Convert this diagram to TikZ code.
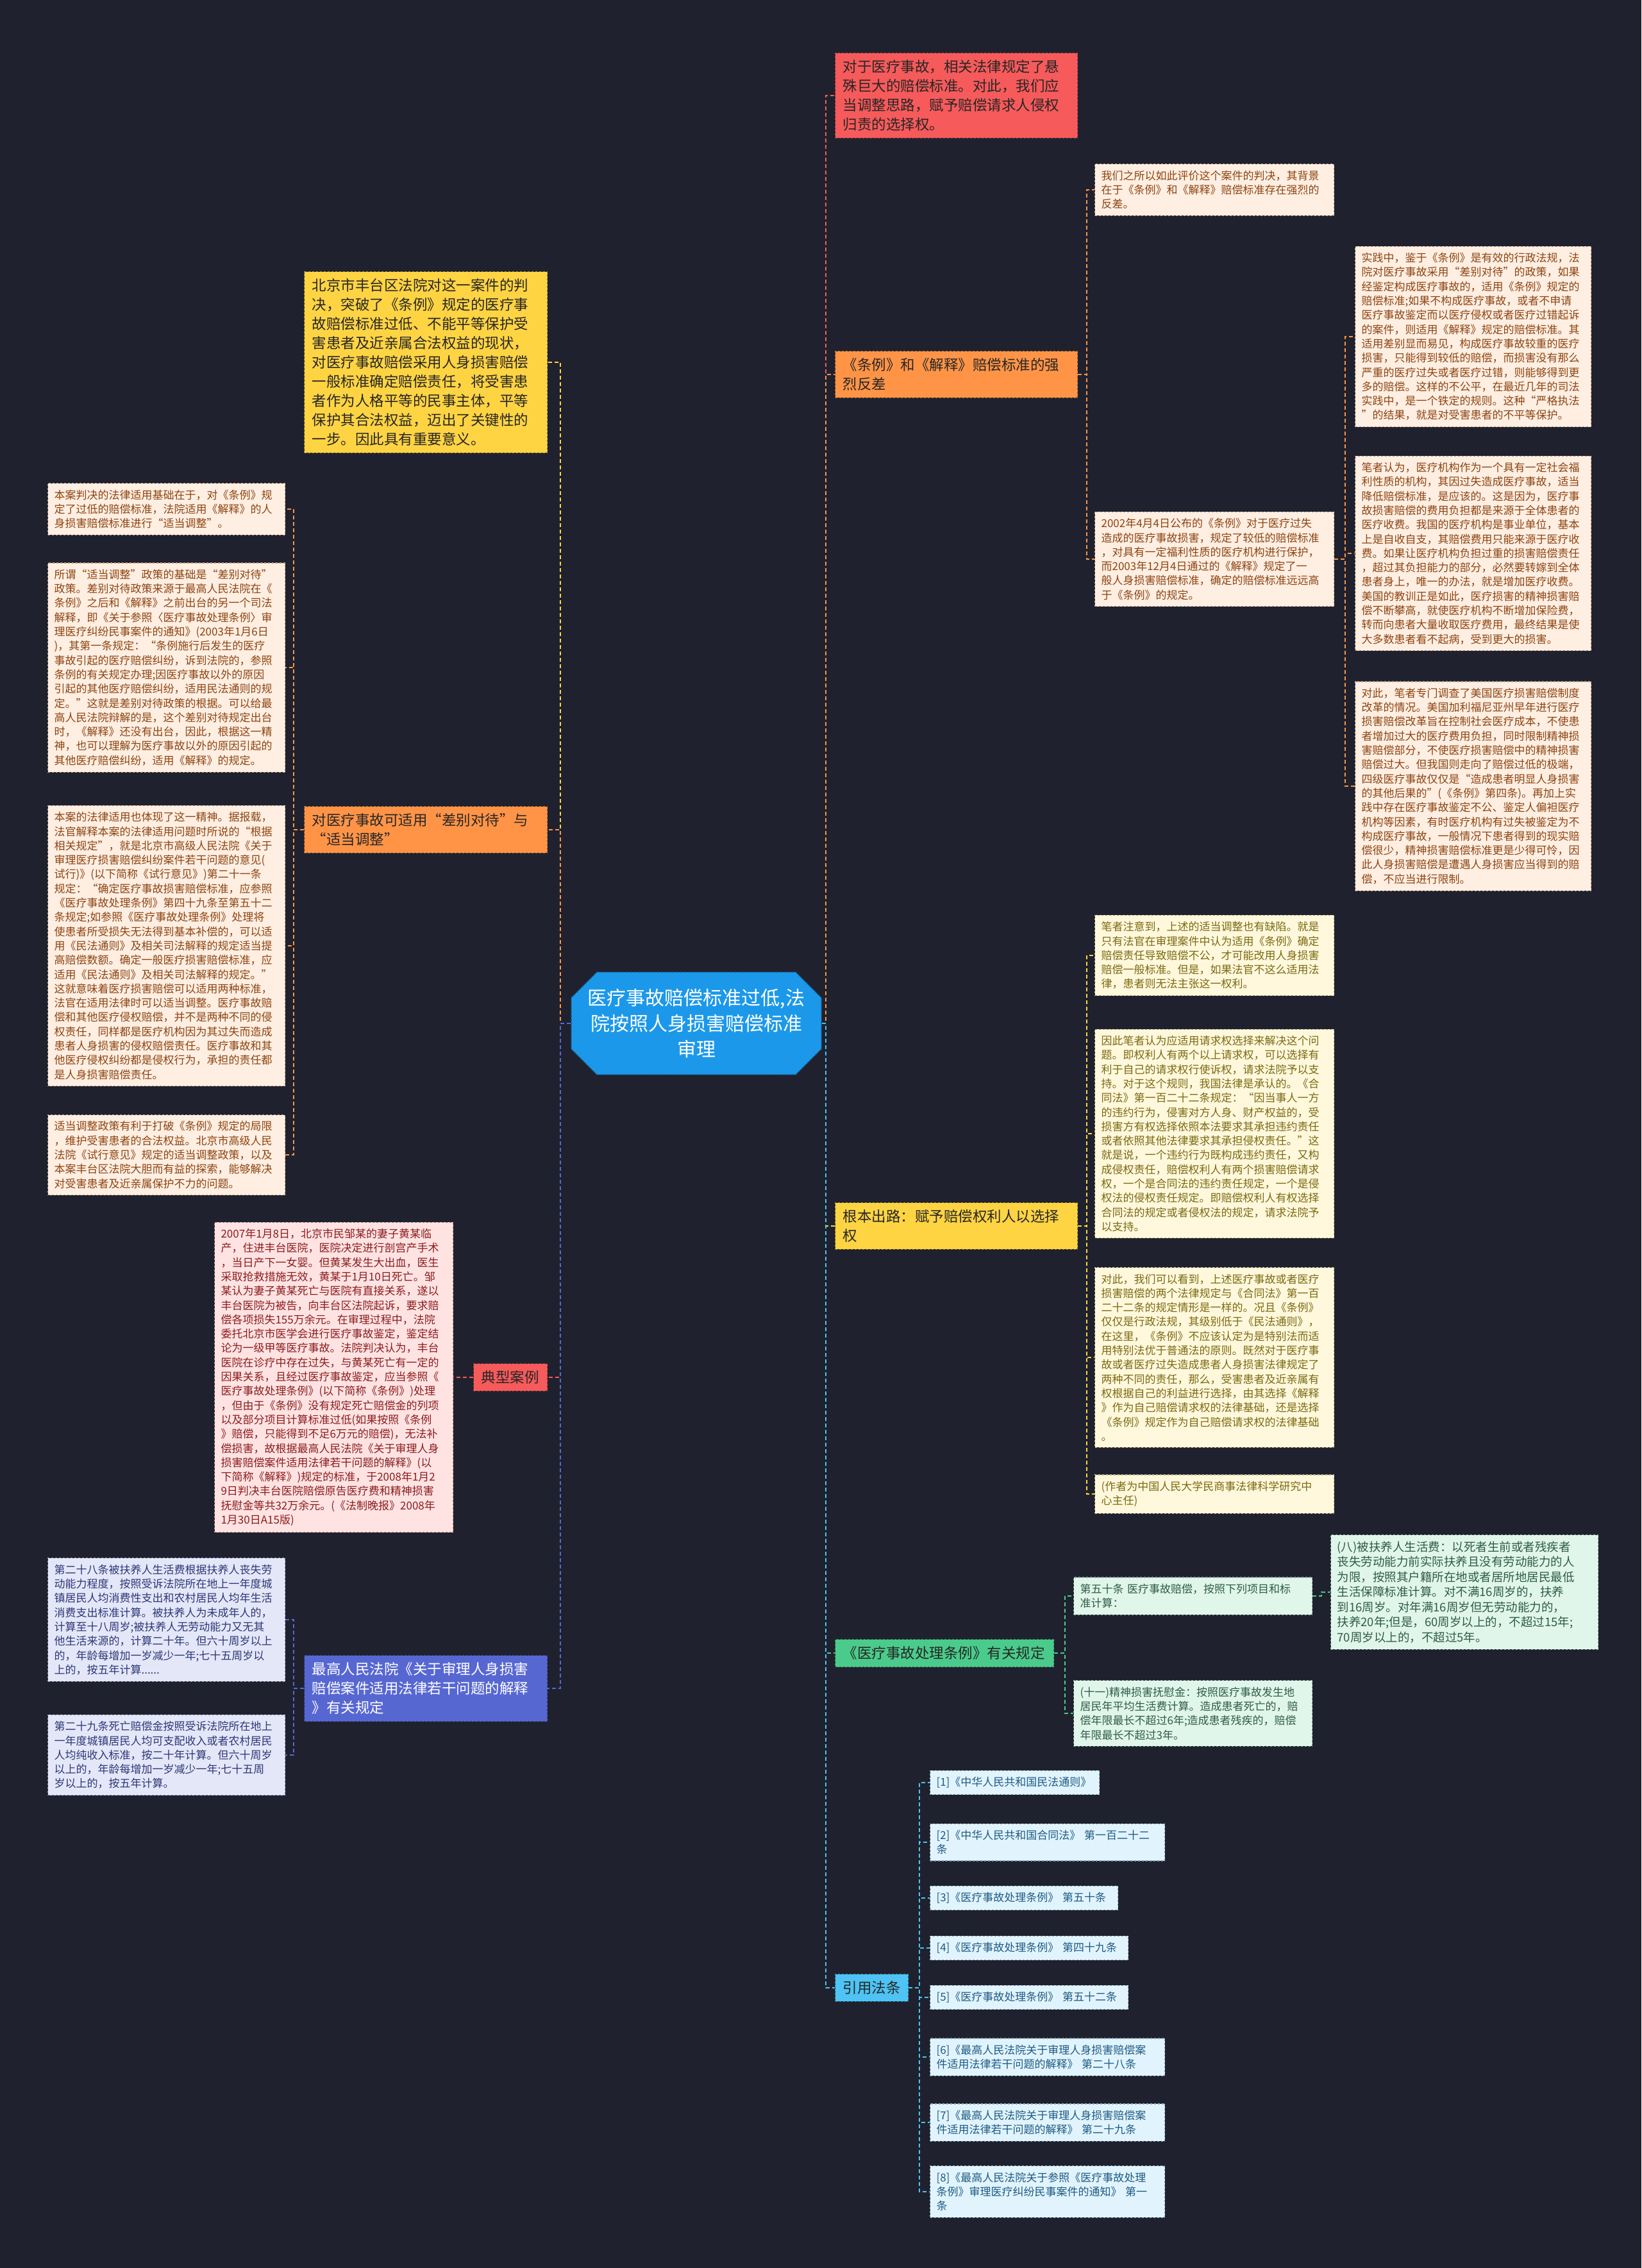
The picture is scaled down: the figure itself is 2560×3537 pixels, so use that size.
\documentclass[tikz,border=0pt]{standalone}
\usepackage{fontspec}
\setmainfont{Noto Sans CJK SC}
\usetikzlibrary{shapes.misc}

\definecolor{bgdark}{HTML}{1F222E}
\definecolor{cmain}{HTML}{1C98EA}
\definecolor{cred}{HTML}{F65A5B}
\definecolor{corange}{HTML}{FF9447}
\definecolor{cyellow}{HTML}{FFD443}
\definecolor{cgreen}{HTML}{4BCB8B}
\definecolor{clblue}{HTML}{4EC3F4}
\definecolor{cblue}{HTML}{5767D2}
\definecolor{obg}{HTML}{FFEEE2}\definecolor{otx}{HTML}{8A4512}
\definecolor{ybg}{HTML}{FFF8DC}\definecolor{ytx}{HTML}{7A6912}
\definecolor{gbg}{HTML}{E1F6EB}\definecolor{gtx}{HTML}{2E5C45}
\definecolor{bbg}{HTML}{E1F4FD}\definecolor{btx}{HTML}{1E5A82}
\definecolor{rbg}{HTML}{FFE3E3}\definecolor{rtx}{HTML}{8A1C1C}
\definecolor{vbg}{HTML}{E4E7F8}\definecolor{vtx}{HTML}{2D3775}

\tikzset{
  mainnode/.style={chamfered rectangle, chamfered rectangle xsep=18pt, chamfered rectangle ysep=22pt,
    fill=cmain, draw=cmain!65!black, dashed, line width=1.5pt, text=white, align=center,
    minimum width=390pt, minimum height=158pt, inner sep=4pt, font=\fontsize{30}{40}\selectfont},
  topic/.style={draw, dashed, line width=1.3pt, anchor=west, align=left, inner xsep=12pt, inner ysep=11pt,
    text=black!85, font=\fontsize{22.5}{30}\selectfont},
  leaf/.style={draw, dashed, line width=1.1pt, anchor=west, align=left, inner xsep=10pt, inner ysep=10pt,
    font=\fontsize{17}{22.3}\selectfont},
  oleaf/.style={leaf, fill=obg, draw=otx!55, text=otx},
  yleaf/.style={leaf, fill=ybg, draw=ytx!55, text=ytx},
  gleaf/.style={leaf, fill=gbg, draw=gtx!55, text=gtx},
  bleaf/.style={leaf, fill=bbg, draw=btx!55, text=btx},
  rleaf/.style={leaf, fill=rbg, draw=rtx!55, text=rtx},
  vleaf/.style={leaf, fill=vbg, draw=vtx!55, text=vtx},
  link/.style={line width=2pt, dash pattern=on 6pt off 4pt}
}

\begin{document}
\begin{tikzpicture}[x=1pt,y=-1pt]
\useasboundingbox (0,0) rectangle (2560,3537);
\fill[bgdark] (0,0) rectangle (2560,3537);

\node[mainnode] (root) at (1086,1596) {医疗事故赔偿标准过低,法\\院按照人身损害赔偿标准\\审理};

% right side
\node[topic, fill=cred, draw=cred!65!black, text width=354pt] (lawview) at (1302,149)
  {对于医疗事故，相关法律规定了悬\\殊巨大的赔偿标准。对此，我们应\\当调整思路，赋予赔偿请求人侵权\\归责的选择权。};

\node[topic, fill=corange, draw=corange!65!black, text width=354pt] (contrast) at (1302,584)
  {《条例》和《解释》赔偿标准的强\\烈反差};
\node[oleaf, text width=353pt] (contrastA) at (1707,296)
  {我们之所以如此评价这个案件的判决，其背景\\在于《条例》和《解释》赔偿标准存在强烈的\\反差。};
\node[oleaf, text width=353pt] (contrastB) at (1707,872)
  {2002年4月4日公布的《条例》对于医疗过失\\造成的医疗事故损害，规定了较低的赔偿标准\\，对具有一定福利性质的医疗机构进行保护，\\而2003年12月4日通过的《解释》规定了一\\般人身损害赔偿标准，确定的赔偿标准远远高\\于《条例》的规定。};
\node[oleaf, text width=348pt] (contrastB1) at (2113,525)
  {实践中，鉴于《条例》是有效的行政法规，法\\院对医疗事故采用“差别对待”的政策，如果\\经鉴定构成医疗事故的，适用《条例》规定的\\赔偿标准;如果不构成医疗事故，或者不申请\\医疗事故鉴定而以医疗侵权或者医疗过错起诉\\的案件，则适用《解释》规定的赔偿标准。其\\适用差别显而易见，构成医疗事故较重的医疗\\损害，只能得到较低的赔偿，而损害没有那么\\严重的医疗过失或者医疗过错，则能够得到更\\多的赔偿。这样的不公平，在最近几年的司法\\实践中，是一个铁定的规则。这种“严格执法\\”的结果，就是对受害患者的不平等保护。};
\node[oleaf, text width=348pt] (contrastB2) at (2113,863)
  {笔者认为，医疗机构作为一个具有一定社会福\\利性质的机构，其因过失造成医疗事故，适当\\降低赔偿标准，是应该的。这是因为，医疗事\\故损害赔偿的费用负担都是来源于全体患者的\\医疗收费。我国的医疗机构是事业单位，基本\\上是自收自支，其赔偿费用只能来源于医疗收\\费。如果让医疗机构负担过重的损害赔偿责任\\，超过其负担能力的部分，必然要转嫁到全体\\患者身上，唯一的办法，就是增加医疗收费。\\美国的教训正是如此，医疗损害的精神损害赔\\偿不断攀高，就使医疗机构不断增加保险费，\\转而向患者大量收取医疗费用，最终结果是使\\大多数患者看不起病，受到更大的损害。};
\node[oleaf, text width=348pt] (contrastB3) at (2113,1226)
  {对此，笔者专门调查了美国医疗损害赔偿制度\\改革的情况。美国加利福尼亚州早年进行医疗\\损害赔偿改革旨在控制社会医疗成本，不使患\\者增加过大的医疗费用负担，同时限制精神损\\害赔偿部分，不使医疗损害赔偿中的精神损害\\赔偿过大。但我国则走向了赔偿过低的极端，\\四级医疗事故仅仅是“造成患者明显人身损害\\的其他后果的”(《条例》第四条)。再加上实\\践中存在医疗事故鉴定不公、鉴定人偏袒医疗\\机构等因素，有时医疗机构有过失被鉴定为不\\构成医疗事故，一般情况下患者得到的现实赔\\偿很少，精神损害赔偿标准更是少得可怜，因\\此人身损害赔偿是遭遇人身损害应当得到的赔\\偿，不应当进行限制。};

\node[topic, fill=cyellow, draw=cyellow!60!black, text width=354pt] (outlet) at (1302,1912)
  {根本出路：赋予赔偿权利人以选择\\权};
\node[yleaf, text width=353pt] (outlet1) at (1707,1490)
  {笔者注意到，上述的适当调整也有缺陷。就是\\只有法官在审理案件中认为适用《条例》确定\\赔偿责任导致赔偿不公，才可能改用人身损害\\赔偿一般标准。但是，如果法官不这么适用法\\律，患者则无法主张这一权利。};
\node[yleaf, text width=353pt] (outlet2) at (1707,1768)
  {因此笔者认为应适用请求权选择来解决这个问\\题。即权利人有两个以上请求权，可以选择有\\利于自己的请求权行使诉权，请求法院予以支\\持。对于这个规则，我国法律是承认的。《合\\同法》第一百二十二条规定：“因当事人一方\\的违约行为，侵害对方人身、财产权益的，受\\损害方有权选择依照本法要求其承担违约责任\\或者依照其他法律要求其承担侵权责任。”这\\就是说，一个违约行为既构成违约责任，又构\\成侵权责任，赔偿权利人有两个损害赔偿请求\\权，一个是合同法的违约责任规定，一个是侵\\权法的侵权责任规定。即赔偿权利人有权选择\\合同法的规定或者侵权法的规定，请求法院予\\以支持。};
\node[yleaf, text width=353pt] (outlet3) at (1707,2117)
  {对此，我们可以看到，上述医疗事故或者医疗\\损害赔偿的两个法律规定与《合同法》第一百\\二十二条的规定情形是一样的。况且《条例》\\仅仅是行政法规，其级别低于《民法通则》，\\在这里，《条例》不应该认定为是特别法而适\\用特别法优于普通法的原则。既然对于医疗事\\故或者医疗过失造成患者人身损害法律规定了\\两种不同的责任，那么，受害患者及近亲属有\\权根据自己的利益进行选择，由其选择《解释\\》作为自己赔偿请求权的法律基础，还是选择\\《条例》规定作为自己赔偿请求权的法律基础\\。};
\node[yleaf, text width=353pt] (outlet4) at (1707,2330)
  {(作者为中国人民大学民商事法律科学研究中\\心主任)};

\node[topic, fill=cgreen, draw=cgreen!60!black, text width=317pt] (rules) at (1302,2578)
  {《医疗事故处理条例》有关规定};
\node[gleaf, text width=352pt] (art50) at (1674,2489)
  {第五十条 医疗事故赔偿，按照下列项目和标\\准计算：};
\node[gleaf, text width=397pt, font=\fontsize{18.5}{23.5}\selectfont] (item8) at (2075,2483)
  {(八)被扶养人生活费：以死者生前或者残疾者\\丧失劳动能力前实际扶养且没有劳动能力的人\\为限，按照其户籍所在地或者居所地居民最低\\生活保障标准计算。对不满16周岁的，扶养\\到16周岁。对年满16周岁但无劳动能力的，\\扶养20年;但是，60周岁以上的，不超过15年;\\70周岁以上的，不超过5年。};
\node[gleaf, text width=352pt] (item11) at (1674,2672)
  {(十一)精神损害抚慰金：按照医疗事故发生地\\居民年平均生活费计算。造成患者死亡的，赔\\偿年限最长不超过6年;造成患者残疾的，赔偿\\年限最长不超过3年。};

\node[topic, fill=clblue, draw=clblue!60!black, text width=90pt] (refs) at (1302,3100) {引用法条};
\node[bleaf, text width=244pt] (ref1) at (1450,2780) {[1]《中华人民共和国民法通则》};
\node[bleaf, text width=346pt] (ref2) at (1450,2873) {[2]《中华人民共和国合同法》 第一百二十二\\条};
\node[bleaf, text width=273pt] (ref3) at (1450,2960) {[3]《医疗事故处理条例》 第五十条};
\node[bleaf, text width=289pt] (ref4) at (1450,3038) {[4]《医疗事故处理条例》 第四十九条};
\node[bleaf, text width=289pt] (ref5) at (1450,3115) {[5]《医疗事故处理条例》 第五十二条};
\node[bleaf, text width=346pt] (ref6) at (1450,3208) {[6]《最高人民法院关于审理人身损害赔偿案\\件适用法律若干问题的解释》 第二十八条};
\node[bleaf, text width=346pt] (ref7) at (1450,3310) {[7]《最高人民法院关于审理人身损害赔偿案\\件适用法律若干问题的解释》 第二十九条};
\node[bleaf, text width=346pt] (ref8) at (1450,3418) {[8]《最高人民法院关于参照《医疗事故处理\\条例》审理医疗纠纷民事案件的通知》 第一\\条};

% left side
\node[topic, fill=cyellow, draw=cyellow!60!black, text width=355pt] (comment) at (474,565)
  {北京市丰台区法院对这一案件的判\\决，突破了《条例》规定的医疗事\\故赔偿标准过低、不能平等保护受\\害患者及近亲属合法权益的现状，\\对医疗事故赔偿采用人身损害赔偿\\一般标准确定赔偿责任，将受害患\\者作为人格平等的民事主体，平等\\保护其合法权益，迈出了关键性的\\一步。因此具有重要意义。};

\node[topic, fill=corange, draw=corange!65!black, text width=355pt] (policy) at (474,1294)
  {对医疗事故可适用“差别对待”与\\“适当调整”};
\node[oleaf, text width=350pt] (policy1) at (74,794)
  {本案判决的法律适用基础在于，对《条例》规\\定了过低的赔偿标准，法院适用《解释》的人\\身损害赔偿标准进行“适当调整”。};
\node[oleaf, text width=350pt] (policy2) at (74,1041)
  {所谓“适当调整”政策的基础是“差别对待”\\政策。差别对待政策来源于最高人民法院在《\\条例》之后和《解释》之前出台的另一个司法\\解释，即《关于参照〈医疗事故处理条例〉审\\理医疗纠纷民事案件的通知》(2003年1月6日\\)，其第一条规定：“条例施行后发生的医疗\\事故引起的医疗赔偿纠纷，诉到法院的，参照\\条例的有关规定办理;因医疗事故以外的原因\\引起的其他医疗赔偿纠纷，适用民法通则的规\\定。”这就是差别对待政策的根据。可以给最\\高人民法院辩解的是，这个差别对待规定出台\\时，《解释》还没有出台，因此，根据这一精\\神，也可以理解为医疗事故以外的原因引起的\\其他医疗赔偿纠纷，适用《解释》的规定。};
\node[oleaf, text width=350pt] (policy3) at (74,1475)
  {本案的法律适用也体现了这一精神。据报载，\\法官解释本案的法律适用问题时所说的“根据\\相关规定”，就是北京市高级人民法院《关于\\审理医疗损害赔偿纠纷案件若干问题的意见(\\试行)》(以下简称《试行意见》)第二十一条\\规定：“确定医疗事故损害赔偿标准，应参照\\《医疗事故处理条例》第四十九条至第五十二\\条规定;如参照《医疗事故处理条例》处理将\\使患者所受损失无法得到基本补偿的，可以适\\用《民法通则》及相关司法解释的规定适当提\\高赔偿数额。确定一般医疗损害赔偿标准，应\\适用《民法通则》及相关司法解释的规定。”\\这就意味着医疗损害赔偿可以适用两种标准，\\法官在适用法律时可以适当调整。医疗事故赔\\偿和其他医疗侵权赔偿，并不是两种不同的侵\\权责任，同样都是医疗机构因为其过失而造成\\患者人身损害的侵权赔偿责任。医疗事故和其\\他医疗侵权纠纷都是侵权行为，承担的责任都\\是人身损害赔偿责任。};
\node[oleaf, text width=350pt] (policy4) at (74,1801)
  {适当调整政策有利于打破《条例》规定的局限\\，维护受害患者的合法权益。北京市高级人民\\法院《试行意见》规定的适当调整政策，以及\\本案丰台区法院大胆而有益的探索，能够解决\\对受害患者及近亲属保护不力的问题。};

\node[topic, fill=cred, draw=cred!65!black, text width=91pt] (case) at (738,2148) {典型案例};
\node[rleaf, text width=352pt] (casetext) at (334,2148)
  {2007年1月8日，北京市民邹某的妻子黄某临\\产，住进丰台医院，医院决定进行剖宫产手术\\，当日产下一女婴。但黄某发生大出血，医生\\采取抢救措施无效，黄某于1月10日死亡。邹\\某认为妻子黄某死亡与医院有直接关系，遂以\\丰台医院为被告，向丰台区法院起诉，要求赔\\偿各项损失155万余元。在审理过程中，法院\\委托北京市医学会进行医疗事故鉴定，鉴定结\\论为一级甲等医疗事故。法院判决认为，丰台\\医院在诊疗中存在过失，与黄某死亡有一定的\\因果关系，且经过医疗事故鉴定，应当参照《\\医疗事故处理条例》(以下简称《条例》)处理\\，但由于《条例》没有规定死亡赔偿金的列项\\以及部分项目计算标准过低(如果按照《条例\\》赔偿，只能得到不足6万元的赔偿)，无法补\\偿损害，故根据最高人民法院《关于审理人身\\损害赔偿案件适用法律若干问题的解释》(以\\下简称《解释》)规定的标准，于2008年1月2\\9日判决丰台医院赔偿原告医疗费和精神损害\\抚慰金等共32万余元。(《法制晚报》2008年\\1月30日A15版)};

\node[topic, fill=cblue, draw=cblue!60!black, text=white, text width=355pt] (interp) at (474,2633)
  {最高人民法院《关于审理人身损害\\赔偿案件适用法律若干问题的解释\\》有关规定};
\node[vleaf, text width=350pt] (interp28) at (74,2526)
  {第二十八条被扶养人生活费根据扶养人丧失劳\\动能力程度，按照受诉法院所在地上一年度城\\镇居民人均消费性支出和农村居民人均年生活\\消费支出标准计算。被扶养人为未成年人的，\\计算至十八周岁;被扶养人无劳动能力又无其\\他生活来源的，计算二十年。但六十周岁以上\\的，年龄每增加一岁减少一年;七十五周岁以\\上的，按五年计算......};
\node[vleaf, text width=350pt] (interp29) at (74,2737)
  {第二十九条死亡赔偿金按照受诉法院所在地上\\一年度城镇居民人均可支配收入或者农村居民\\人均纯收入标准，按二十年计算。但六十周岁\\以上的，年龄每增加一岁减少一年;七十五周\\岁以上的，按五年计算。};

% connectors from the root
\draw[link, cred] (root.east) -- ++(6,0) |- (lawview.west);
\draw[link, corange] (root.east) -- ++(6,0) |- (contrast.west);
\draw[link, cyellow] (root.east) -- ++(6,0) |- (outlet.west);
\draw[link, cgreen] (root.east) -- ++(6,0) |- (rules.west);
\draw[link, clblue] (root.east) -- ++(6,0) |- (refs.west);
\draw[link, cyellow] (root.west) -- ++(-16,0) |- (comment.east);
\draw[link, corange] (root.west) -- ++(-16,0) |- (policy.east);
\draw[link, cred] (root.west) -- ++(-16,0) |- (case.east);
\draw[link, cblue] (root.west) -- ++(-16,0) |- (interp.east);

% right branches
\foreach \n in {contrastA,contrastB}
  \draw[link, corange] (contrast.east) -- ++(14,0) |- (\n.west);
\foreach \n in {contrastB1,contrastB2,contrastB3}
  \draw[link, corange] (contrastB.east) -- ++(17,0) |- (\n.west);
\foreach \n in {outlet1,outlet2,outlet3,outlet4}
  \draw[link, cyellow] (outlet.east) -- ++(14,0) |- (\n.west);
\foreach \n in {art50,item11}
  \draw[link, cgreen] (rules.east) -- ++(17,0) |- (\n.west);
\draw[link, cgreen] (art50.east) -- ++(14,0) |- (item8.west);
\foreach \n in {ref1,ref2,ref3,ref4,ref5,ref6,ref7,ref8}
  \draw[link, clblue] (refs.east) -- ++(17,0) |- (\n.west);

% left branches
\foreach \n in {policy1,policy2,policy3,policy4}
  \draw[link, corange] (policy.west) -- ++(-16,0) |- (\n.east);
\draw[link, cred] (case.west) -- (casetext.east);
\foreach \n in {interp28,interp29}
  \draw[link, cblue] (interp.west) -- ++(-16,0) |- (\n.east);
\end{tikzpicture}
\end{document}
